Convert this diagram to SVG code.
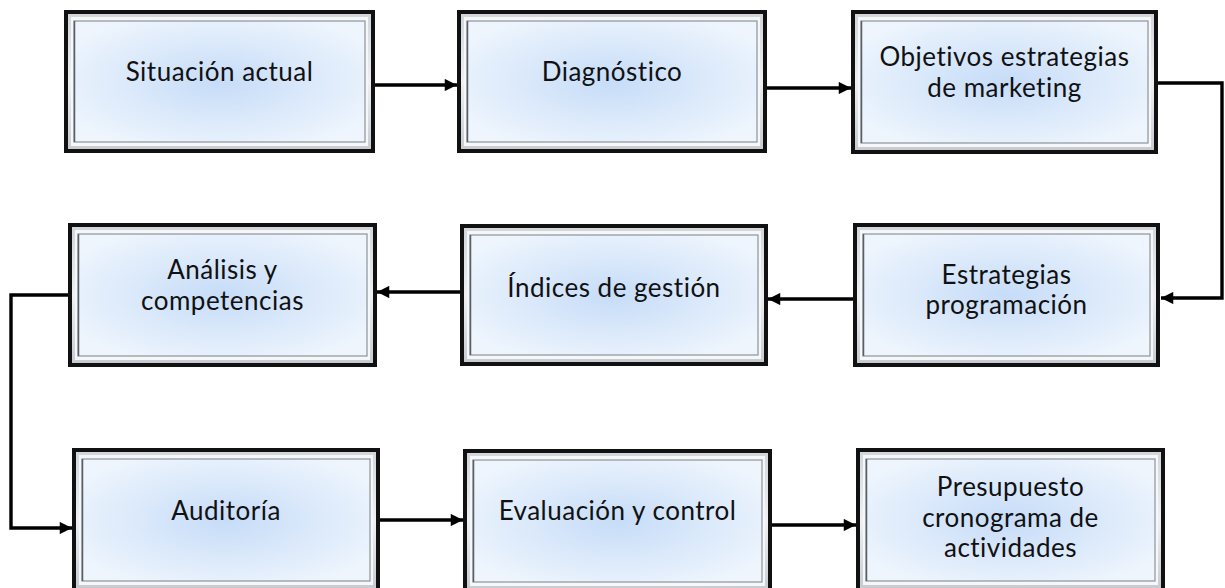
<svg xmlns="http://www.w3.org/2000/svg" width="1225" height="588" viewBox="0 0 1225 588">
<defs>
<radialGradient id="fill" cx="0.5" cy="0.5" r="0.6">
<stop offset="0" stop-color="#c6dcf8"/>
<stop offset="1" stop-color="#eef5fd"/>
</radialGradient>
<linearGradient id="frame" x1="0" y1="0" x2="0" y2="1">
<stop offset="0" stop-color="#d2d6db"/>
<stop offset="0.5" stop-color="#eef0f2"/>
<stop offset="1" stop-color="#c8ccd2"/>
</linearGradient>
<marker id="ah" viewBox="0 0 10 10" refX="10" refY="5" markerWidth="4" markerHeight="3.6" markerUnits="strokeWidth" orient="auto">
<path d="M0,0 L10,5 L0,10 z" fill="#000"/>
</marker>
</defs>
<style>
.o{fill:#111;}
.f{fill:url(#frame);}
.w{fill:#f6f7f9;}
.i{fill:url(#fill);stroke:#8d939a;stroke-width:1.2;}
.l{fill:none;stroke:#5a5f66;stroke-width:1.5;}
text{font-family:Lato,"Liberation Sans",sans-serif;font-size:26px;letter-spacing:0.5px;fill:#111;text-anchor:middle;}
.c{fill:none;stroke:#000;stroke-width:3.4;}
</style>
<rect width="1225" height="588" fill="#fff"/>

<g id="n1">
<rect class="o" x="64" y="10" width="311" height="143"/>
<rect class="f" x="68" y="14" width="303" height="135"/>
<rect class="w" x="71" y="17" width="297" height="129"/>
<rect class="i" x="74" y="21" width="291" height="121"/>
<line class="l" x1="74.5" y1="21" x2="74.5" y2="142"/>
<text x="219.5" y="81">Situación actual</text>
</g>

<g id="n2">
<rect class="o" x="457" y="10" width="310" height="143"/>
<rect class="f" x="461" y="14" width="302" height="135"/>
<rect class="w" x="464" y="17" width="296" height="129"/>
<rect class="i" x="467" y="21" width="290" height="121"/>
<line class="l" x1="467.5" y1="21" x2="467.5" y2="142"/>
<text x="612" y="81">Diagnóstico</text>
</g>

<g id="n3">
<rect class="o" x="851" y="10" width="307" height="144"/>
<rect class="f" x="855" y="14" width="299" height="136"/>
<rect class="w" x="858" y="17" width="293" height="130"/>
<rect class="i" x="861" y="21" width="287" height="122"/>
<line class="l" x1="861.5" y1="21" x2="861.5" y2="143"/>
<text x="1004.5" y="66">Objetivos estrategias</text>
<text x="1004.5" y="97">de marketing</text>
</g>

<g id="n4">
<rect class="o" x="853" y="223" width="307" height="144"/>
<rect class="f" x="857" y="227" width="299" height="136"/>
<rect class="w" x="860" y="230" width="293" height="130"/>
<rect class="i" x="863" y="234" width="287" height="122"/>
<line class="l" x1="863.5" y1="234" x2="863.5" y2="356"/>
<text x="1006.5" y="284">Estrategias</text>
<text x="1006.5" y="314">programación</text>
</g>

<g id="n5">
<rect class="o" x="460" y="224" width="308" height="142"/>
<rect class="f" x="464" y="228" width="300" height="134"/>
<rect class="w" x="467" y="231" width="294" height="128"/>
<rect class="i" x="470" y="235" width="288" height="120"/>
<line class="l" x1="470.5" y1="235" x2="470.5" y2="355"/>
<text x="614" y="297">Índices de gestión</text>
</g>

<g id="n6">
<rect class="o" x="68" y="223" width="309" height="144"/>
<rect class="f" x="72" y="227" width="301" height="136"/>
<rect class="w" x="75" y="230" width="295" height="130"/>
<rect class="i" x="78" y="234" width="289" height="122"/>
<line class="l" x1="78.5" y1="234" x2="78.5" y2="356"/>
<text x="222.5" y="279">Análisis y</text>
<text x="222.5" y="310">competencias</text>
</g>

<g id="n7">
<rect class="o" x="72" y="448" width="308" height="144"/>
<rect class="f" x="76" y="452" width="300" height="136"/>
<rect class="w" x="79" y="455" width="294" height="130"/>
<rect class="i" x="82" y="459" width="288" height="122"/>
<line class="l" x1="82.5" y1="459" x2="82.5" y2="581"/>
<text x="226" y="520">Auditoría</text>
</g>

<g id="n8">
<rect class="o" x="463" y="449" width="309" height="144"/>
<rect class="f" x="467" y="453" width="301" height="136"/>
<rect class="w" x="470" y="456" width="295" height="130"/>
<rect class="i" x="473" y="460" width="289" height="122"/>
<line class="l" x1="473.5" y1="460" x2="473.5" y2="582"/>
<text x="617.5" y="520">Evaluación y control</text>
</g>

<g id="n9">
<rect class="o" x="856" y="448" width="309" height="144"/>
<rect class="f" x="860" y="452" width="301" height="136"/>
<rect class="w" x="863" y="455" width="295" height="130"/>
<rect class="i" x="866" y="459" width="289" height="122"/>
<line class="l" x1="866.5" y1="459" x2="866.5" y2="581"/>
<text x="1010.5" y="496">Presupuesto</text>
<text x="1010.5" y="527">cronograma de</text>
<text x="1010.5" y="557">actividades</text>
</g>

<g id="connectors">
<path class="c" d="M375,85 L457,85" marker-end="url(#ah)"/>
<path class="c" d="M767,88 L851,88" marker-end="url(#ah)"/>
<path class="c" d="M1158,83 L1222,83 L1222,298 L1161,298" marker-end="url(#ah)"/>
<path class="c" d="M853,299 L768,299" marker-end="url(#ah)"/>
<path class="c" d="M460,292 L377,292" marker-end="url(#ah)"/>
<path class="c" d="M68,295 L11,295 L11,528 L72,528" marker-end="url(#ah)"/>
<path class="c" d="M380,520 L463,520" marker-end="url(#ah)"/>
<path class="c" d="M772,525 L856,525" marker-end="url(#ah)"/>
</g>
</svg>
